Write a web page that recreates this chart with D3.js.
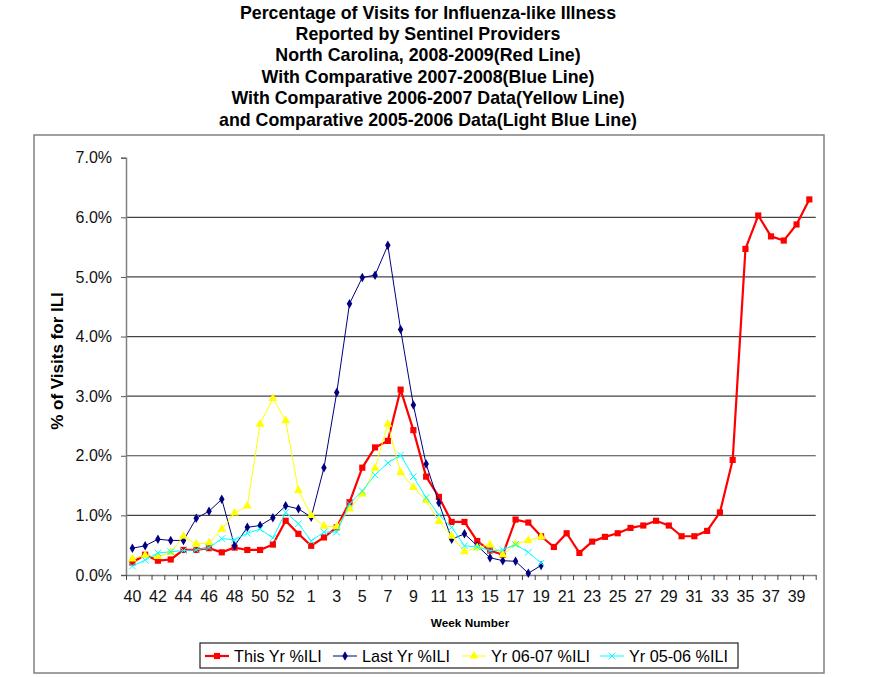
<!DOCTYPE html>
<html>
<head>
<meta charset="utf-8">
<script src="https://cdn.jsdelivr.net/npm/d3@7"></script>
<style>
  body { margin: 0; background: #fff; }
  svg { font-family: "Liberation Sans", Arial, sans-serif; }
</style>
</head>
<body>
<svg id="chart"></svg>
<script>
// week labels, 2008 week 40 through 2009 week 40 (2008 has a week 53)
var weeks = [40, 41, 42, 43, 44, 45, 46, 47, 48, 49, 50, 51, 52, 53,
    1, 2, 3, 4, 5, 6, 7, 8, 9, 10, 11, 12, 13, 14, 15, 16, 17, 18, 19, 20,
    21, 22, 23, 24, 25, 26, 27, 28, 29, 30, 31, 32, 33, 34, 35, 36, 37, 38, 39, 40];

var thisYr = [0.21, 0.34, 0.24, 0.26, 0.42, 0.42, 0.45, 0.38, 0.46, 0.42,
    0.42, 0.51, 0.91, 0.69, 0.49, 0.63, 0.80, 1.22, 1.80, 2.14,
    2.25, 3.11, 2.43, 1.65, 1.31, 0.89, 0.89, 0.57, 0.41, 0.34,
    0.93, 0.88, 0.65, 0.47, 0.70, 0.37, 0.56, 0.64, 0.70, 0.79,
    0.83, 0.91, 0.83, 0.65, 0.65, 0.74, 1.05, 1.93, 5.47, 6.03,
    5.68, 5.61, 5.88, 6.30];

var lastYr = [0.45, 0.49, 0.60, 0.58, 0.58, 0.95, 1.07, 1.27, 0.49, 0.80,
    0.83, 0.96, 1.16, 1.11, 0.97, 1.80, 3.06, 4.55, 4.99, 5.03,
    5.53, 4.12, 2.85, 1.86, 1.21, 0.60, 0.69, 0.49, 0.29, 0.24,
    0.23, 0.03, 0.16];

var yr0607 = [0.27, 0.33, 0.31, 0.38, 0.65, 0.52, 0.54, 0.77, 1.04, 1.16,
    2.53, 2.96, 2.59, 1.42, 1.00, 0.82, 0.81, 1.11, 1.36, 1.79,
    2.53, 1.72, 1.47, 1.25, 0.90, 0.65, 0.39, 0.46, 0.51, 0.34,
    0.52, 0.58, 0.64];

var yr0506 = [0.15, 0.25, 0.37, 0.39, 0.41, 0.42, 0.46, 0.61, 0.59, 0.70,
    0.77, 0.62, 1.05, 0.86, 0.57, 0.72, 0.72, 1.19, 1.41, 1.68,
    1.88, 2.01, 1.65, 1.30, 1.01, 0.80, 0.49, 0.47, 0.41, 0.42,
    0.51, 0.38, 0.20];

var yTicks = [0, 1, 2, 3, 4, 5, 6, 7];

var titleLines = [
    "Percentage of Visits for Influenza-like Illness",
    "Reported by Sentinel Providers",
    "North Carolina, 2008-2009(Red Line)",
    "With Comparative 2007-2008(Blue Line)",
    "With Comparative 2006-2007 Data(Yellow Line)",
    "and Comparative 2005-2006 Data(Light Blue Line)"
];

var series = [
    {name: "This Yr %ILI", values: thisYr, color: "#ff0000", width: 2.2, marker: "square"},
    {name: "Last Yr %ILI", values: lastYr, color: "#000080", width: 1, marker: "diamond"},
    {name: "Yr 06-07 %ILI", values: yr0607, color: "#ffff00", width: 1, marker: "triangle"},
    {name: "Yr 05-06 %ILI", values: yr0506, color: "#00ffff", width: 1, marker: "cross"}
];

var width = 893, height = 677;
var plot = {left: 126, right: 815.7, top: 157.7, bottom: 575};

var svg = d3.select("#chart").attr("width", width).attr("height", height);

// title
svg.append("g").selectAll("text")
    .data(titleLines)
    .enter().append("text")
    .attr("x", 428)
    .attr("y", function (d, i) { return 18.5 + i * 21.4; })
    .attr("text-anchor", "middle")
    .style("font-weight", "bold")
    .style("font-size", "17.8px")
    .text(function (d) { return d; });

// chart border
svg.append("rect")
    .attr("x", 34).attr("y", 135)
    .attr("width", 790).attr("height", 538)
    .attr("fill", "none")
    .attr("stroke", "#808080")
    .attr("stroke-width", 1.5);

var x = d3.scaleBand()
    .domain(d3.range(weeks.length))
    .range([plot.left, plot.right]);

var xEdge = d3.scaleLinear()
    .domain([0, weeks.length])
    .range([plot.left, plot.right]);

var y = d3.scaleLinear()
    .domain([0, 7])
    .range([plot.bottom, plot.top]);

function cx(i) { return x(i) + x.bandwidth() / 2; }

// gridlines
svg.append("g").selectAll("line")
    .data(yTicks.filter(function (d) { return d > 0 && d < 7; }))
    .enter().append("line")
    .attr("x1", plot.left).attr("x2", plot.right)
    .attr("y1", function (d) { return y(d); })
    .attr("y2", function (d) { return y(d); })
    .attr("stroke", "#444")
    .attr("stroke-width", 1.2);

// y axis
var yAxis = svg.append("g")
    .attr("transform", "translate(" + plot.left + ",0)")
    .call(d3.axisLeft(y)
        .tickValues(yTicks)
        .tickSize(5)
        .tickPadding(9)
        .tickFormat(function (d) { return d.toFixed(1) + "%"; }));
yAxis.select(".domain").attr("stroke", "#808080").attr("stroke-width", 1.5);
yAxis.selectAll(".tick line").attr("stroke", "#555");
yAxis.selectAll("text")
    .style("font-size", "16px")
    .style("font-family", "Liberation Sans, Arial, sans-serif")
    .attr("fill", "#111");

// x axis tick marks at category edges
var xTicks = svg.append("g")
    .attr("transform", "translate(0," + plot.bottom + ")")
    .call(d3.axisBottom(xEdge)
        .tickValues(d3.range(weeks.length + 1))
        .tickSize(5)
        .tickSizeOuter(0)
        .tickFormat(""));
xTicks.select(".domain").attr("stroke", "#808080").attr("stroke-width", 1.5);
xTicks.selectAll(".tick line").attr("stroke", "#444");

// x axis labels, every other week
var xLabels = svg.append("g")
    .attr("transform", "translate(0," + plot.bottom + ")")
    .call(d3.axisBottom(x)
        .tickValues(d3.range(0, weeks.length, 2))
        .tickSize(0)
        .tickPadding(16)
        .tickFormat(function (i) { return weeks[i]; }));
xLabels.select(".domain").remove();
xLabels.selectAll("text")
    .style("font-size", "16px")
    .style("font-family", "Liberation Sans, Arial, sans-serif")
    .attr("fill", "#111");

// axis titles
svg.append("text")
    .attr("x", 470).attr("y", 627)
    .attr("text-anchor", "middle")
    .style("font-weight", "bold")
    .style("font-size", "11.8px")
    .text("Week Number");

svg.append("text")
    .attr("transform", "translate(63,361) rotate(-90)")
    .attr("text-anchor", "middle")
    .style("font-weight", "bold")
    .style("font-size", "17px")
    .text("% of Visits for ILI");

var symbols = {
    square: d3.symbol().type(d3.symbolSquare).size(38),
    diamond: d3.symbol().type(d3.symbolDiamond).size(26),
    triangle: d3.symbol().type(d3.symbolTriangle).size(34),
    cross: d3.symbol().type(d3.symbolX).size(30)
};

function drawMarker(sel, s) {
    sel.attr("d", symbols[s.marker]());
    if (s.marker === "cross") {
        sel.attr("fill", "none").attr("stroke", s.color).attr("stroke-width", 1);
    } else {
        sel.attr("fill", s.color).attr("stroke", "none");
    }
}

var line = d3.line()
    .defined(function (d) { return d != null; })
    .x(function (d, i) { return cx(i); })
    .y(function (d) { return y(d); });

series.forEach(function (s) {
    var g = svg.append("g");
    g.append("path")
        .datum(s.values)
        .attr("d", line)
        .attr("fill", "none")
        .attr("stroke", s.color)
        .attr("stroke-width", s.width)
        .attr("stroke-linejoin", "round");
    g.selectAll("path.pt")
        .data(s.values)
        .enter().append("path")
        .attr("class", "pt")
        .attr("transform", function (d, i) { return "translate(" + cx(i) + "," + y(d) + ")"; })
        .call(drawMarker, s);
});

// legend
var legend = svg.append("g");
legend.append("rect")
    .attr("x", 200).attr("y", 643)
    .attr("width", 538).attr("height", 25)
    .attr("fill", "#fff")
    .attr("stroke", "#222")
    .attr("stroke-width", 1.2);

var legendX = [205, 333, 462, 600];
series.forEach(function (s, k) {
    var lg = legend.append("g").attr("transform", "translate(" + legendX[k] + ",656)");
    lg.append("line")
        .attr("x1", 0).attr("x2", 24)
        .attr("stroke", s.color)
        .attr("stroke-width", s.width);
    lg.append("path")
        .attr("transform", "translate(12,0)")
        .call(drawMarker, s);
    lg.append("text")
        .attr("x", 29).attr("y", 6)
        .style("font-size", "16.2px")
        .text(s.name);
});
</script>
</body>
</html>
